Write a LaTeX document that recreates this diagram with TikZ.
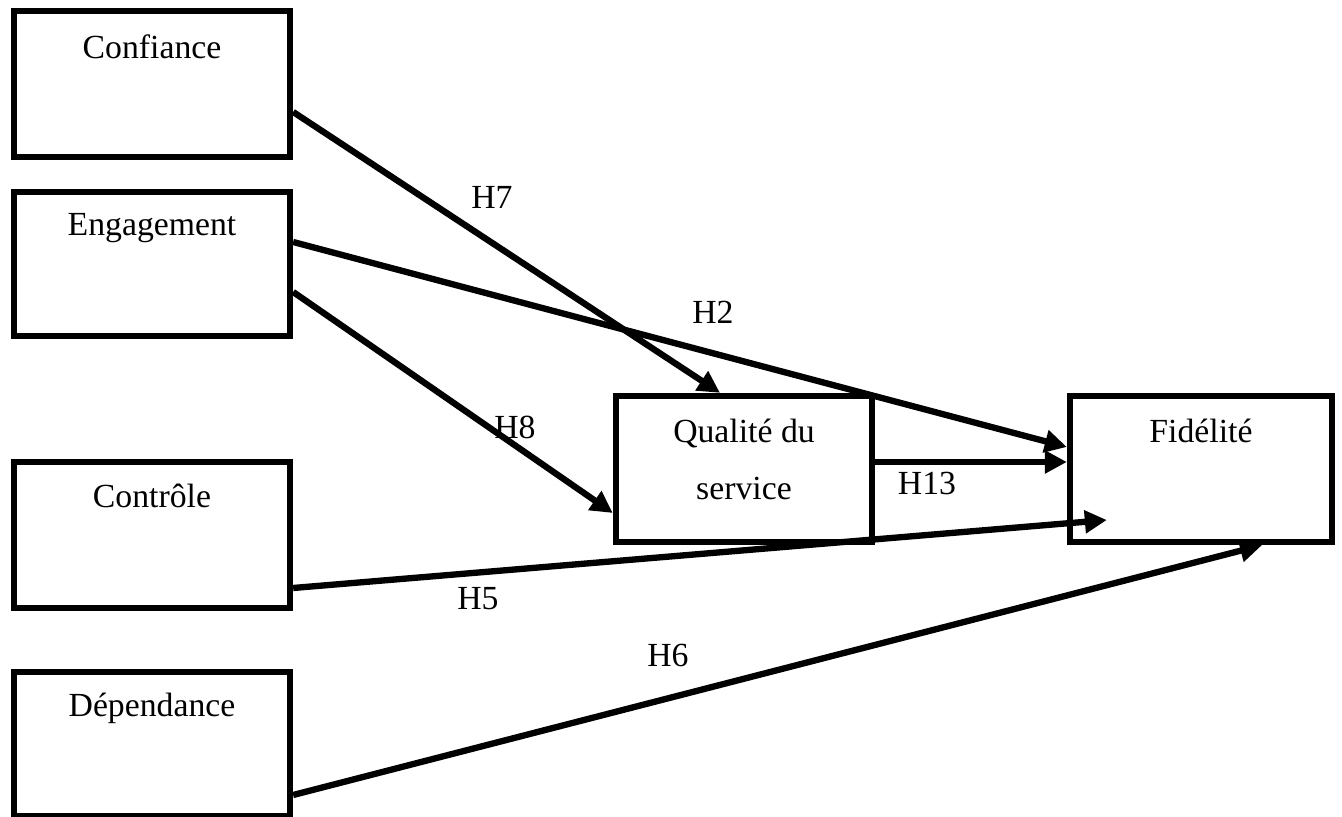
\documentclass[tikz,border=0pt]{standalone}
\usepackage{fontspec}
\setmainfont{Liberation Serif}
\usetikzlibrary{arrows.meta,positioning}

\tikzset{
  varbox/.style={draw, line width=1.8pt, inner sep=0pt, minimum width=2.76cm, minimum height=1.46cm},
  vartext/.style={anchor=base, align=center, font=\fontsize{9.6}{16.2}\selectfont},
  hyp/.style={line width=1.8pt, -{Triangle[length=2.2mm, width=2.2mm]}},
  hlabel/.style={font=\fontsize{9.6}{11}\selectfont},
}

\begin{document}
\begin{tikzpicture}
    \useasboundingbox (0,0) rectangle (13.42,8.17);
    % the variables
    \node[varbox] (conf) at (1.52, 7.33) {};
    \node[varbox, minimum height=1.44cm] (eng) at (1.52, 5.53) {};
    \node[varbox] (ctrl) at (1.52, 2.82) {};
    \node[varbox, minimum height=1.44cm] (dep) at (1.52, 0.73) {};
    \node[varbox, minimum width=2.56cm] (qual) at (7.44, 3.48) {};
    \node[varbox, minimum width=2.62cm] (fid) at (12.01, 3.48) {};
    \node[vartext] (conf-t) at ([yshift=-0.51cm]conf.north) {Confiance};
    \node[vartext] (eng-t) at ([yshift=-0.47cm]eng.north) {Engagement};
    \node[vartext] (ctrl-t) at ([yshift=-0.49cm]ctrl.north) {Contrôle};
    \node[vartext] (dep-t) at ([yshift=-0.48cm]dep.north) {Dépendance};
    \node[vartext] (qual-t) at ([yshift=-1.07cm]qual.north) {Qualité du\\service};
    \node[vartext] (fid-t) at ([yshift=-0.50cm]fid.north) {Fidélité};

    % the hypotheses
    \draw[hyp] ([yshift=-0.28cm]conf.east) -- ([xshift=-0.24cm]qual.north);
    \draw[hyp] ([yshift=0.22cm]eng.east) -- ([yshift=0.22cm]fid.west);
    \draw[hyp] ([yshift=-0.28cm]eng.east) -- ([yshift=-0.44cm]qual.west);
    \draw[hyp] ([yshift=0.07cm]qual.east) -- ([yshift=0.07cm]fid.west);
    \draw[hyp] ([yshift=-0.53cm]ctrl.east) -- ([xshift=0.4cm, yshift=-0.51cm]fid.west);
    \draw[hyp] ([yshift=-0.51cm]dep.east) -- ([xshift=0.61cm]fid.south);

    \node[hlabel] (h7) at (4.92, 6.20) {H7};
    \node[hlabel] (h2) at (7.13, 5.05) {H2};
    \node[hlabel] (h8) at (5.15, 3.90) {H8};
    \node[hlabel] (h13) at (9.27, 3.33) {H13};
    \node[hlabel] (h5) at (4.78, 2.18) {H5};
    \node[hlabel] (h6) at (6.68, 1.62) {H6};
\end{tikzpicture}
\end{document}
